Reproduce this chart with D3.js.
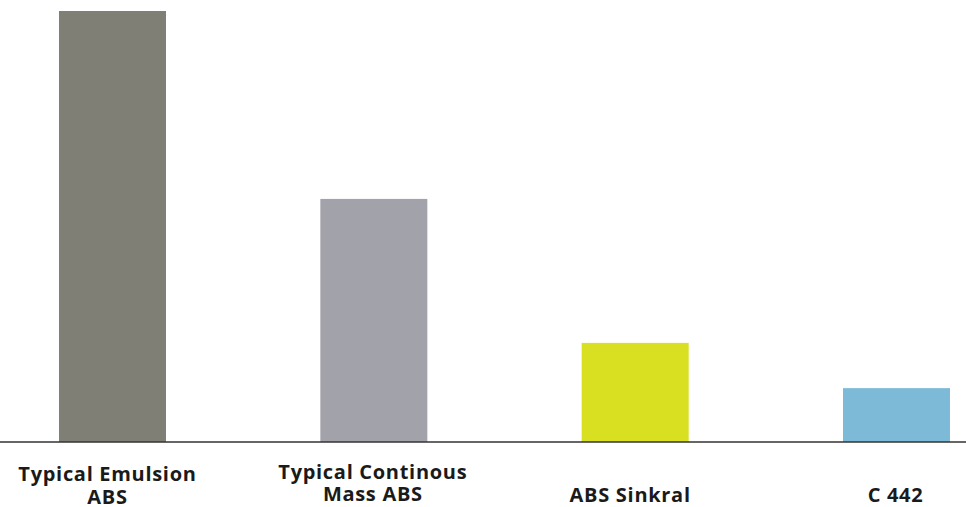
<!DOCTYPE html>
<html>
<head>
<meta charset="utf-8">
<script src="https://cdn.jsdelivr.net/npm/d3@7"></script>
<style>
  html, body { margin: 0; padding: 0; background: #fff; }
  svg { display: block; }
</style>
</head>
<body>
<svg id="chart" width="966" height="507"></svg>
<script>
const categories = ["Typical Emulsion ABS", "Typical Continous Mass ABS", "ABS Sinkral", "C 442"];
const labelLines = [["Typical Emulsion", "ABS"], ["Typical Continous", "Mass ABS"], ["ABS Sinkral"], ["C 442"]];
const values = [100, 56.4, 23.0, 12.5];
const colors = ["#7f7f75", "#a2a2ab", "#d8e021", "#7cbad8"];

const svg = d3.select("#chart");
const W = 966, baseY = 442, topY = 11;

const x = d3.scaleBand()
  .domain(categories)
  .range([59, 950])
  .paddingInner(0.5906)
  .paddingOuter(0);

const y = d3.scaleLinear().domain([0, 100]).range([baseY, topY]);

svg.selectAll("rect.bar")
  .data(categories)
  .join("rect")
  .attr("class", "bar")
  .attr("x", d => x(d))
  .attr("width", x.bandwidth())
  .attr("y", (d, i) => y(values[i]))
  .attr("height", (d, i) => y(0) - y(values[i]))
  .attr("fill", (d, i) => colors[i]);

svg.append("line")
  .attr("x1", 0).attr("x2", W)
  .attr("y1", y(0)).attr("y2", y(0))
  .attr("stroke", "#333")
  .attr("stroke-width", 1.5);

// layout tweaks for label placement
const labelShift = [-5, -1, -5, -1];
const firstBase = [480.5, 478.5, 501.5, 501.5];
const lineGap = [23.5, 22.5, 0, 0];

categories.forEach((d, i) => {
  const cx = x(d) + x.bandwidth() / 2 + labelShift[i];
  svg.selectAll(null)
    .data(labelLines[i])
    .join("text")
    .attr("text-anchor", "middle")
    .attr("font-family", "'Open Sans', sans-serif")
    .attr("font-weight", 700)
    .attr("font-size", 20)
    .attr("letter-spacing", 0.7)
    .attr("fill", "#1a1a1a")
    .attr("x", cx)
    .attr("y", (l, j) => firstBase[i] + j * lineGap[i])
    .text(l => l);
});
</script>
</body>
</html>
